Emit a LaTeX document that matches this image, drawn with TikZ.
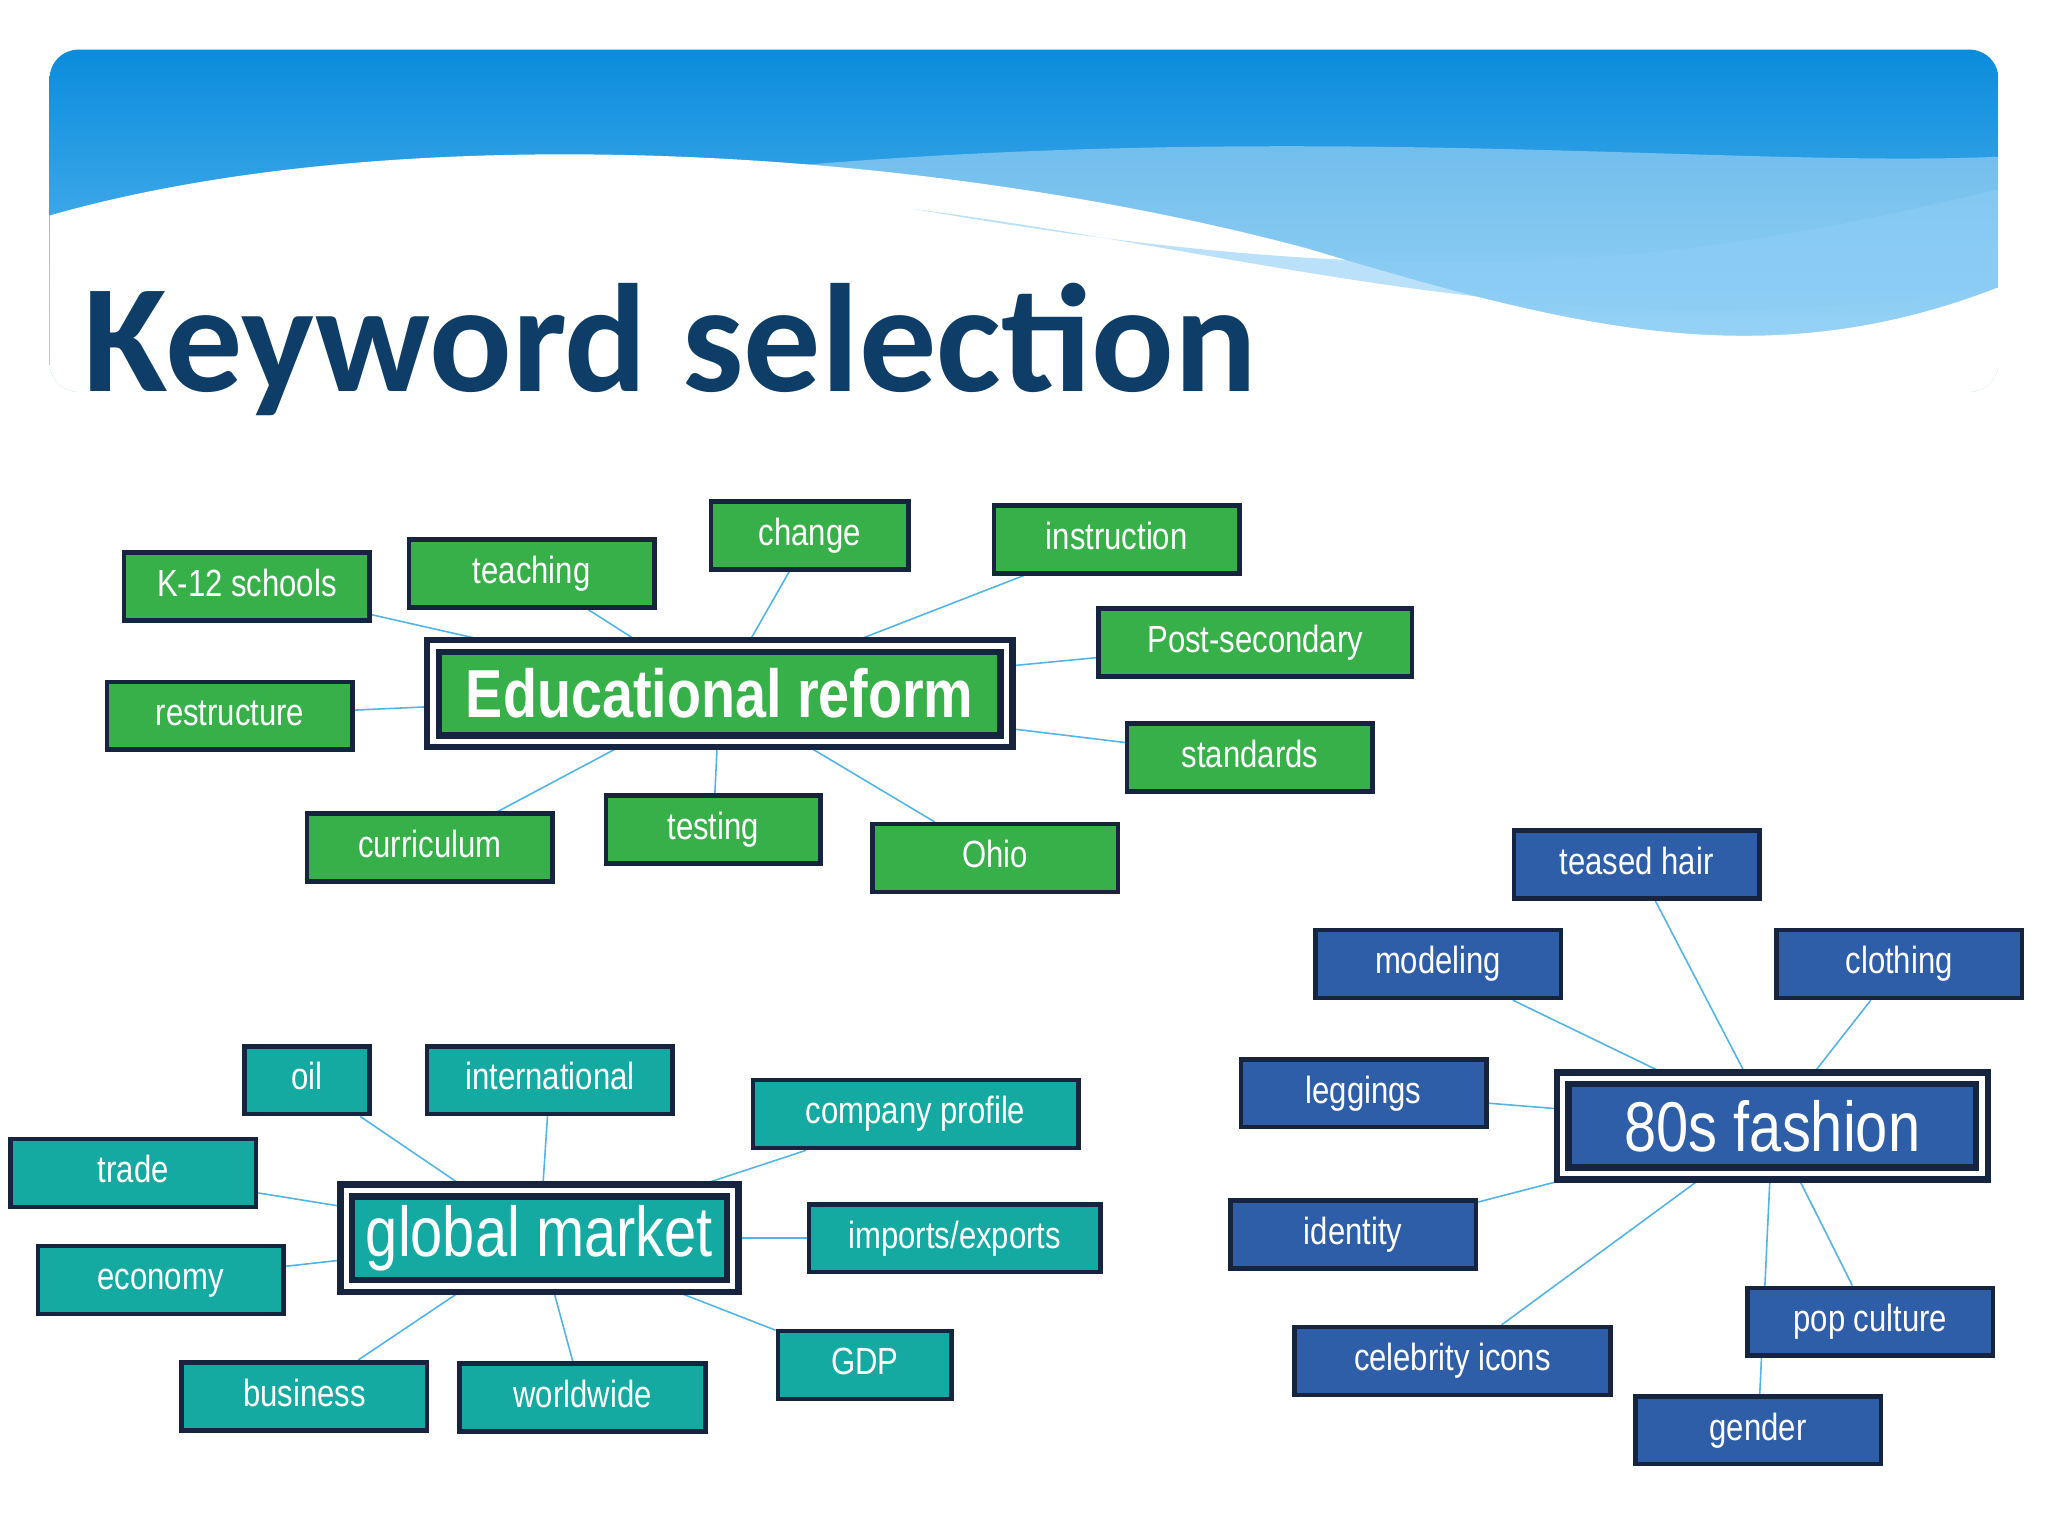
\documentclass[tikz,border=0pt]{standalone}
\usepackage{fontspec}
\setmainfont{Liberation Sans}[FakeStretch=0.82]
\newfontfamily\titlefont{Carlito}
\usetikzlibrary{backgrounds}
\definecolor{navy}{RGB}{22,36,64}
\definecolor{grn}{RGB}{56,176,74}
\definecolor{teal}{RGB}{20,170,162}
\definecolor{blu}{RGB}{47,94,168}
\definecolor{lnk}{RGB}{80,180,230}
\definecolor{ttl}{RGB}{14,62,104}
\definecolor{bantop}{RGB}{10,140,220}
\definecolor{banbot}{RGB}{110,195,245}
\definecolor{band}{RGB}{140,205,245}
\tikzset{
 kw/.style={draw=navy,line width=3.5pt,text=white,minimum width=#1,minimum height=52,inner sep=0pt,text height=21pt,text depth=6pt,font=\fontsize{29}{30}\selectfont},
 kw/.default=188,
 hub/.style={draw=navy,line width=5pt,text=white,minimum height=73,inner sep=0pt,double=white,double distance=4pt},
 link/.style={draw=lnk,line width=1.2pt}
}
\begin{document}
\begin{tikzpicture}[x=1pt,y=-1pt]
\useasboundingbox (0,0) rectangle (1568,1176);
% banner
\begin{scope}
\clip[rounded corners=22] (38,38) rectangle (1530,300);
\shade[top color=bantop,bottom color=banbot] (38,38) rectangle (1530,300);
\fill[white,opacity=0.35] (400,150) .. controls (900,80) and (1300,130) .. (1530,120) -- (1530,300) -- (400,300) -- cycle;
\fill[white] (38,165) .. controls (300,90) and (700,110) .. (1000,190) .. controls (1200,250) and (1350,290) .. (1530,220) -- (1530,300) -- (38,300) -- cycle;
\fill[band,opacity=0.6] (700,160) .. controls (1000,200) and (1200,270) .. (1530,220) -- (1530,145) .. controls (1300,200) and (1100,230) .. (700,160) -- cycle;
\end{scope}
\node[anchor=base west,text=ttl,font=\titlefont\bfseries\fontsize{118}{120}\selectfont,inner sep=0] (title) at (64,300) {Keyword selec\kern0pt tion};
% educational reform
\node[hub,fill=grn,minimum width=439,font=\bfseries\fontsize{52}{54}\selectfont] (edu) at (551,531) {Educational reform};
\node[kw,fill=grn] (k12) at (189,449) {K-12 schools};
\node[kw,fill=grn] (teach) at (407,439) {teaching};
\node[kw=151,fill=grn] (chg) at (620,410) {change};
\node[kw,fill=grn] (instr) at (855,413) {instruction};
\node[kw=240,fill=grn] (post) at (961,492) {Post-secondary};
\node[kw,fill=grn] (restr) at (176,548) {restructure};
\node[kw,fill=grn] (std) at (957,580) {standards};
\node[kw,fill=grn] (curr) at (329,649) {curriculum};
\node[kw=164,fill=grn] (test) at (546,635) {testing};
\node[kw,fill=grn] (ohio) at (762,657) {Ohio};
% global market
\node[hub,fill=teal,minimum width=296,font=\fontsize{54}{56}\selectfont] (gm) at (413,948) {global market};
\node[kw=96,fill=teal] (oil) at (235,827) {oil};
\node[kw,fill=teal] (intl) at (421,827) {international};
\node[kw=249,fill=teal] (comp) at (701,853) {company profile};
\node[kw,fill=teal] (trade) at (102,898) {trade};
\node[kw=223,fill=teal] (imp) at (731,948) {imports/exports};
\node[kw,fill=teal] (econ) at (123,980) {economy};
\node[kw=133,fill=teal] (gdp) at (662,1045) {GDP};
\node[kw,fill=teal] (bus) at (233,1069) {business};
\node[kw,fill=teal] (ww) at (446,1070) {worldwide};
% 80s fashion
\node[hub,fill=blu,minimum width=321,font=\fontsize{54}{56}\selectfont] (fash) at (1357,862) {80s fashion};
\node[kw,fill=blu] (hair) at (1253,662) {teased hair};
\node[kw,fill=blu] (model) at (1101,738) {modeling};
\node[kw,fill=blu] (cloth) at (1454,738) {clothing};
\node[kw,fill=blu] (legg) at (1044,837) {leggings};
\node[kw,fill=blu] (ident) at (1036,945) {identity};
\node[kw=242,fill=blu] (celeb) at (1112,1042) {celebrity icons};
\node[kw,fill=blu] (pop) at (1432,1012) {pop culture};
\node[kw,fill=blu] (gend) at (1346,1095) {gender};
\begin{scope}[on background layer]
\fill[white] (0,0) rectangle (1568,1176);
\foreach \n in {k12,teach,chg,instr,post,restr,std,curr,test,ohio}{\draw[link] (edu) -- (\n);}
\foreach \n in {oil,intl,comp,trade,imp,econ,gdp,bus,ww}{\draw[link] (gm) -- (\n);}
\foreach \n in {hair,model,cloth,legg,ident,celeb,pop,gend}{\draw[link] (fash) -- (\n);}
\end{scope}
\end{tikzpicture}
\end{document}
